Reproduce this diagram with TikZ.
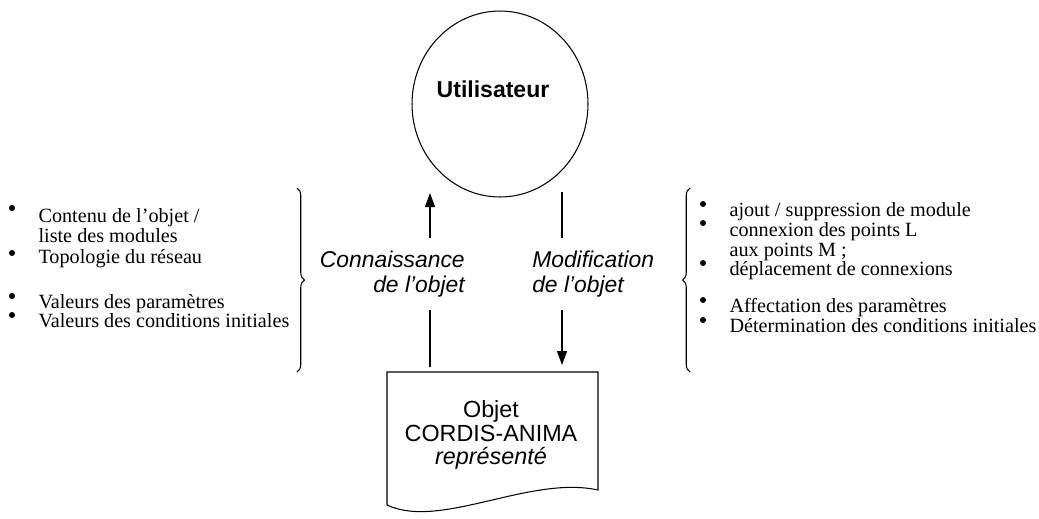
\documentclass[tikz,border=0pt]{standalone}
\usepackage{fontspec}
\setmainfont{Liberation Serif}
\setsansfont{Liberation Sans}
\usetikzlibrary{shapes.geometric,arrows.meta,decorations.pathreplacing}

\begin{document}
\begin{tikzpicture}[x=0.02cm, y=-0.02cm, line width=0.6pt,
  item/.style={anchor=base west, inner sep=0pt, font=\fontsize{11.5}{12}\selectfont},
  lbl/.style={font=\sffamily\itshape\fontsize{13}{14}\selectfont, minimum height=1.4cm, inner sep=1pt},
  tip/.style={-{Triangle[length=0.28cm,width=0.2cm]}},
  brc/.style={decorate, decoration={brace, amplitude=0.15cm}}]
\useasboundingbox (0,0) rectangle (1039,518);

% utilisateur
\node (user) [draw, ellipse, minimum width=3.52cm, minimum height=3.72cm] at (500,104) {};
\node (usertxt) [font=\sffamily\bfseries\fontsize{13.1}{15}\selectfont] at (493,89) {Utilisateur};

% objet represente
\draw (387,505) -- (387,372) -- (598,372) -- (598,490)
  .. controls (530,475) and (440,530) .. (387,505);
\node (doc) [align=center, font=\sffamily\fontsize{13.3}{13.2}\selectfont] at (491,435)
  {Objet\\CORDIS-ANIMA\\\textit{représenté}};

% fleches
\node (conn) [lbl, align=right, anchor=east] at (467,274) {Connaissance\\de l'objet};
\node (modif) [lbl, align=left, anchor=west] at (530,274) {Modification\\de l'objet};
\coordinate (upfoot) at (430,367);
\coordinate (uptip) at (430,193);
\coordinate (dntop) at (562,192);
\coordinate (dntip) at (562,365);
\draw (upfoot) -- (conn.south -| upfoot);
\draw[tip] (conn.north -| uptip) -- (uptip);
\draw (dntop) -- (modif.north -| dntop);
\draw[tip] (modif.south -| dntip) -- (dntip);

% accolades
\draw[brc] (297,188) -- (297,372);
\draw[brc] (690,372) -- (690,188);

% liste de gauche
\node (l1) [item] at (38,222) {Contenu de l’objet /};
\node (l2) [item] at (38,242) {liste des modules};
\node (l3) [item] at (38,263) {Topologie du réseau};
\node (l4) [item] at (38,308) {Valeurs des paramètres};
\node (l5) [item] at (38,327) {Valeurs des conditions initiales};
\foreach \y in {208,253,296,315}
  \fill (12,\y) circle (0.06cm);

% liste de droite
\node (r1) [item] at (729,216) {ajout / suppression de module};
\node (r2) [item] at (729,236) {connexion des points L};
\node (r3) [item] at (729,256) {aux points M ;};
\node (r4) [item] at (729,275) {déplacement de connexions};
\node (r5) [item] at (729,312) {Affectation des paramètres};
\node (r6) [item] at (729,332) {Détermination des conditions initiales};
\foreach \y in {204,223,263,300,320}
  \fill (703,\y) circle (0.06cm);
\end{tikzpicture}
\end{document}
